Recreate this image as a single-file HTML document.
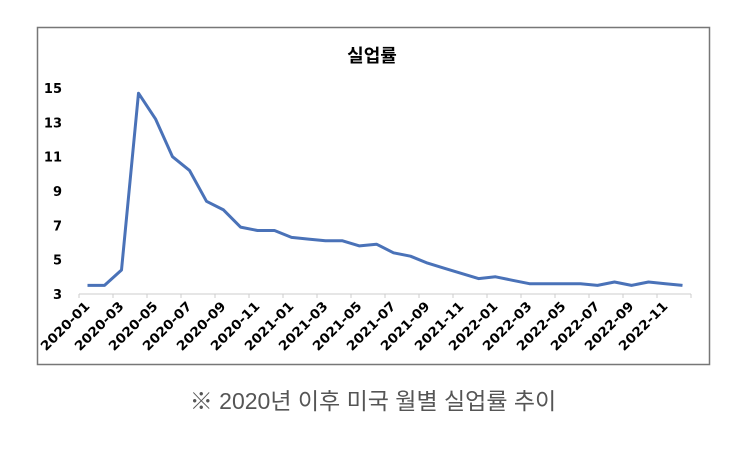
<!DOCTYPE html>
<html><head><meta charset="utf-8">
<style>
body{margin:0;background:#fff;width:743px;height:446px;overflow:hidden;font-family:"Liberation Sans","Noto Sans CJK KR",sans-serif;}
</style></head>
<body>
<svg width="743" height="446" xmlns="http://www.w3.org/2000/svg">
<rect x="37.5" y="27.5" width="672" height="337" fill="#fff" stroke="#777" stroke-width="1.5"/>
<text x="372" y="62" text-anchor="middle" font-size="18" font-weight="bold" font-family="Liberation Sans, Noto Sans CJK KR, sans-serif">실업률</text>
<g id="yaxis"></g>
<g id="xaxis"></g>
<path id="line" fill="none" stroke="#4a72b8" stroke-width="3" stroke-linejoin="round"/>
<text x="373" y="409" text-anchor="middle" font-size="23" fill="#555" font-family="Liberation Sans, Noto Sans CJK KR, sans-serif">※ 2020년 이후 미국 월별 실업률 추이</text>
</svg>
<script>
const months=["2020-01","2020-02","2020-03","2020-04","2020-05","2020-06","2020-07","2020-08","2020-09","2020-10","2020-11","2020-12","2021-01","2021-02","2021-03","2021-04","2021-05","2021-06","2021-07","2021-08","2021-09","2021-10","2021-11","2021-12","2022-01","2022-02","2022-03","2022-04","2022-05","2022-06","2022-07","2022-08","2022-09","2022-10","2022-11","2022-12"];
const rates=[3.5,3.5,4.4,14.7,13.2,11.0,10.2,8.4,7.9,6.9,6.7,6.7,6.3,6.2,6.1,6.1,5.8,5.9,5.4,5.2,4.8,4.5,4.2,3.9,4.0,3.8,3.6,3.6,3.6,3.6,3.5,3.7,3.5,3.7,3.6,3.5];
const yTicks=[3,5,7,9,11,13,15];
const NS="http://www.w3.org/2000/svg";
const x0=79,x1=691,yB=294,yT=88,vMin=3,vMax=15;
const step=(x1-x0)/months.length;
const xs=i=>x0+step*(i+0.5);
const ys=v=>yB-(v-vMin)/(vMax-vMin)*(yB-yT);
const ya=document.getElementById('yaxis'),xa=document.getElementById('xaxis');
yTicks.forEach(t=>{
  const tx=document.createElementNS(NS,'text');
  
  
  tx.setAttribute('x',62);tx.setAttribute('y',ys(t)+5);
  tx.setAttribute('text-anchor','end');tx.setAttribute('font-size','13');tx.setAttribute('font-weight','bold');
  tx.setAttribute('font-family','DejaVu Sans, sans-serif');
  tx.textContent=t;ya.appendChild(tx);
});
const ax=document.createElementNS(NS,'line');


ax.setAttribute('x1',x0);ax.setAttribute('x2',x1);ax.setAttribute('y1',yB);ax.setAttribute('y2',yB);
ax.setAttribute('stroke','#ccc');ax.setAttribute('stroke-width','1');xa.appendChild(ax);
months.forEach((m,i)=>{
  if(i%2===0){
    const tk=document.createElementNS(NS,'line');
    
    
    const tx0=x0+step*i;
    tk.setAttribute('x1',tx0);tk.setAttribute('x2',tx0);tk.setAttribute('y1',yB);tk.setAttribute('y2',yB+4);
    tk.setAttribute('stroke','#ccc');xa.appendChild(tk);
    const lb=document.createElementNS(NS,'text');
    
    
    const lx=xs(i)+3,ly=yB+13;
    lb.setAttribute('x',lx);lb.setAttribute('y',ly);
    lb.setAttribute('text-anchor','end');lb.setAttribute('font-size','13');lb.setAttribute('font-weight','bold');
    lb.setAttribute('font-family','DejaVu Sans, sans-serif');
    lb.setAttribute('textLength','63');lb.setAttribute('lengthAdjust','spacingAndGlyphs');
    lb.setAttribute('transform','rotate(-45 '+lx+' '+ly+')');
    lb.textContent=m;xa.appendChild(lb);
  }
});
const endTk=document.createElementNS(NS,'line');


endTk.setAttribute('x1',x1);endTk.setAttribute('x2',x1);endTk.setAttribute('y1',yB);endTk.setAttribute('y2',yB+4);
endTk.setAttribute('stroke','#ccc');xa.appendChild(endTk);
document.getElementById('line').setAttribute('d',rates.map((v,i)=>(i?'L':'M')+xs(i).toFixed(1)+' '+ys(v).toFixed(1)).join(' '));
</script>
</body></html>
